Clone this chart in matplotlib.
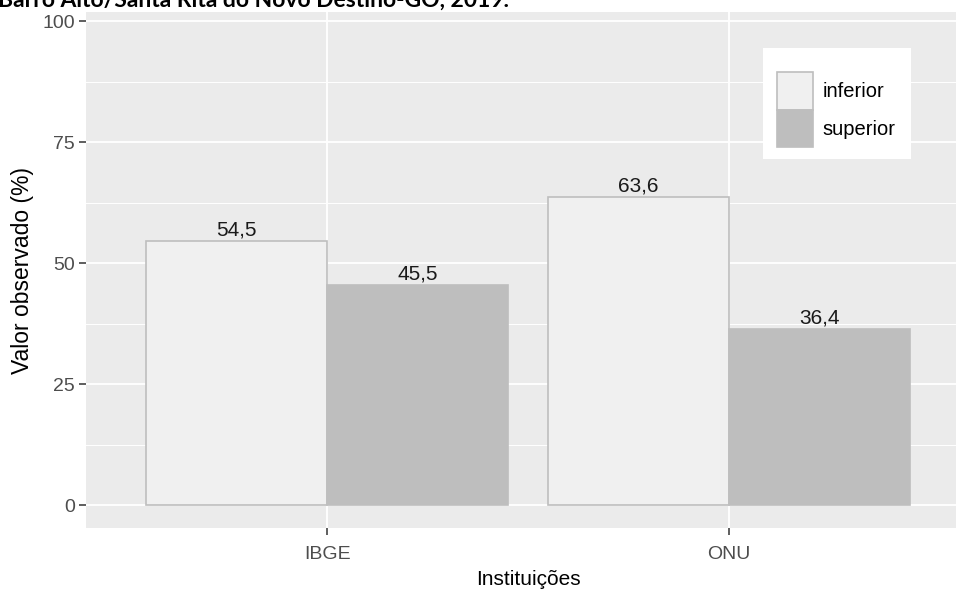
import numpy as np
import matplotlib
matplotlib.use('Agg')
import matplotlib.pyplot as plt
from matplotlib.patches import Patch, Rectangle

instituicoes = ['IBGE', 'ONU']
grupos = ['inferior', 'superior']
inferior = [54.5, 63.6]
superior = [45.5, 36.4]
titulo = 'Barro Alto/Santa Rita do Novo Destino-GO, 2019.'

cores = {'inferior': '#F0F0F0', 'superior': '#BEBEBE'}
borda = '#BEBEBE'

plt.rcParams['font.family'] = ['Liberation Sans', 'DejaVu Sans']

W, H = 956, 589
fig = plt.figure(figsize=(W / 100, H / 100), dpi=100)
ax = fig.add_axes([86 / W, 1 - 528 / H, (970 - 86) / W, (528 - 12) / H])
ax.set_facecolor('#EBEBEB')

x = np.arange(len(instituicoes))
larg = 0.45
valores = {'inferior': inferior, 'superior': superior}
for i, g in enumerate(grupos):
    pos = x - larg / 2 + i * larg
    ax.bar(pos, valores[g], width=larg, color=cores[g], edgecolor=borda,
           linewidth=1.2, zorder=3)
    for px, v in zip(pos, valores[g]):
        ax.annotate(f'{v:.1f}'.replace('.', ','), (px, v), xytext=(0, 1),
                    textcoords='offset points', ha='center', va='bottom',
                    fontsize=15, color='#1A1A1A', zorder=4)

ax.set_xlim(-0.6, 1.6)
ax.set_ylim(-4.75, 101.9)
ax.set_yticks([0, 25, 50, 75, 100])
ax.set_yticks([12.5, 37.5, 62.5, 87.5], minor=True)
ax.set_xticks(x)
ax.set_xticklabels(instituicoes)

ax.grid(which='major', color='white', linewidth=1.3, zorder=0)
ax.grid(which='minor', axis='y', color='white', linewidth=0.7, zorder=0)
ax.set_axisbelow(True)
for s in ax.spines.values():
    s.set_visible(False)
ax.tick_params(axis='both', which='major', colors='#333333', length=5,
               width=1.1, labelsize=14, labelcolor='#4D4D4D', pad=3)
ax.tick_params(axis='x', pad=8)
ax.tick_params(which='minor', length=0)

ax.set_xlabel('Instituições', fontsize=15, labelpad=5)
ax.set_ylabel('Valor observado (%)', fontsize=16.5, labelpad=6)

# fundo branco da legenda (estilo ggplot)
fundo = Rectangle((763 / W, 1 - 159 / H), 148 / W, 111 / H, transform=fig.transFigure,
                  facecolor='white', edgecolor='none', zorder=5, clip_on=False)
ax.add_patch(fundo)

handles = [Patch(facecolor=cores[g], edgecolor=borda, linewidth=1.2, label=g)
           for g in grupos]
leg = ax.legend(handles=handles, loc='upper left',
                bbox_to_anchor=(777 / W, 1 - 72 / H), bbox_transform=fig.transFigure,
                borderaxespad=0, frameon=False, fontsize=14.5,
                handlelength=1.8, handleheight=2.5, labelspacing=0,
                handletextpad=0.45, borderpad=0)
leg.set_zorder(6)

fig.text(-2 / W, 1 - 7 / H, titulo, ha='left', va='baseline',
         fontsize=16.5, fontweight='bold', family=['Lato', 'DejaVu Sans'])

fig.savefig('out.png', dpi=100)
